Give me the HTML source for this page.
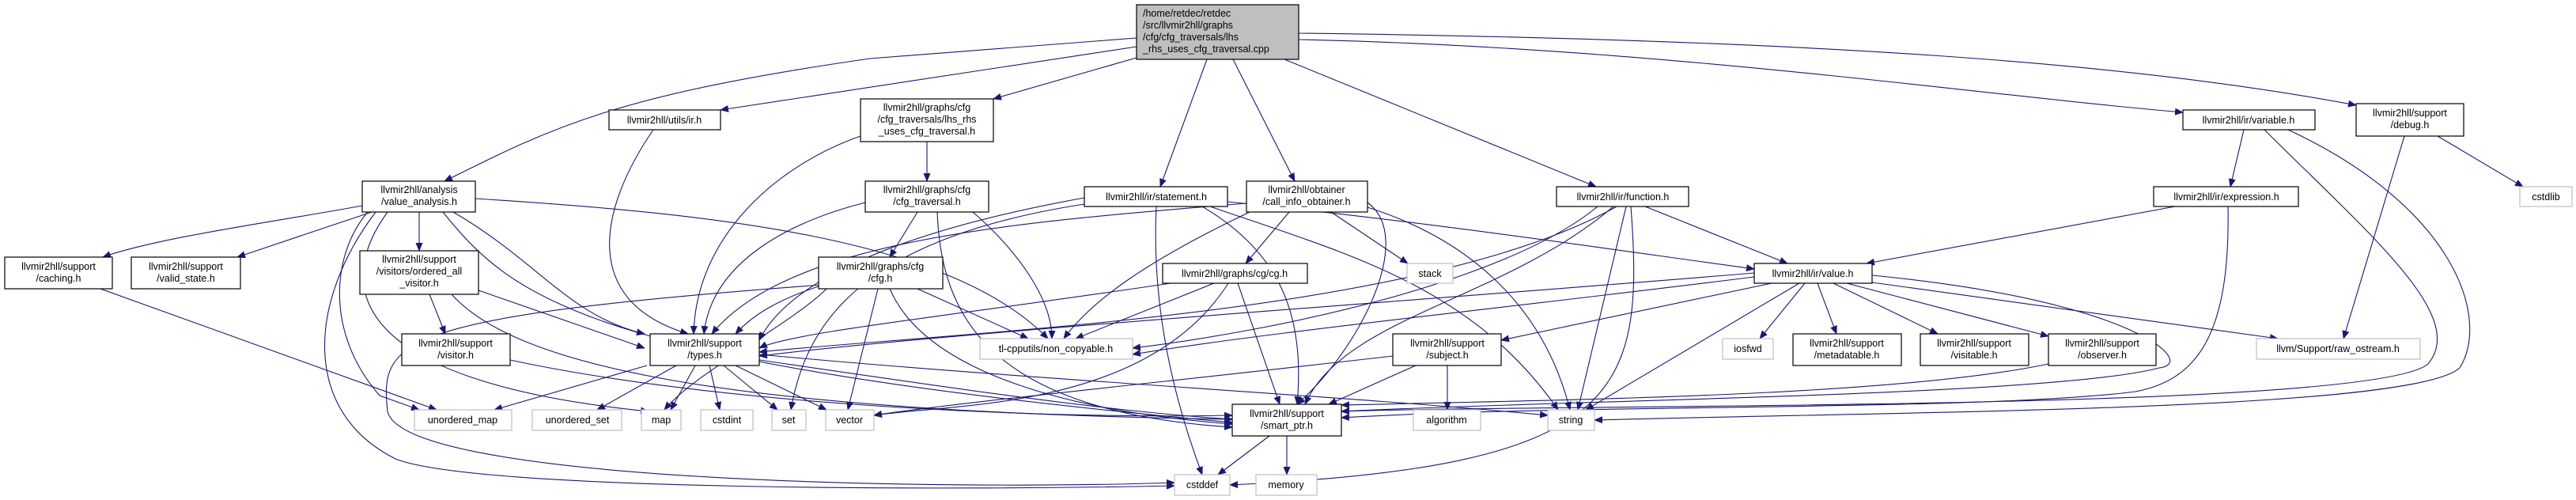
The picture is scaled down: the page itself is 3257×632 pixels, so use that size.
<!DOCTYPE html>
<html><head><meta charset="utf-8"><style>
html,body{margin:0;padding:0;background:#fff;}
svg{display:block;}
text{font-family:"Liberation Sans",sans-serif;font-size:12.5px;fill:#000;}
.n{fill:#fff;stroke:#000;stroke-width:1.2;}
.x{fill:#fff;stroke:#bfbfbf;stroke-width:1.2;}
.e{fill:none;stroke:#191970;stroke-width:1.1;}
</style></head><body>
<svg width="3257" height="632" viewBox="0 0 3257 632" xmlns="http://www.w3.org/2000/svg">
<defs><marker id="a" markerWidth="11" markerHeight="9" refX="10" refY="4.5" orient="auto" markerUnits="userSpaceOnUse"><path d="M0,0 L11,4.5 L0,9 z" fill="#191970"/></marker></defs>
<g class="e" marker-end="url(#a)">
<path d="M1437 48 L1100 74 C780 120 700 160 562 229"/>
<path d="M1437 59 L911 139"/>
<path d="M1437 73 L1256 125"/>
<path d="M1526 75 L1467 236"/>
<path d="M1559 75 L1637 229"/>
<path d="M1624 75 L2018 236"/>
<path d="M1642 50 C2100 60 2500 120 2760 142"/>
<path d="M1642 42 C2300 50 2700 80 2979 133"/>
<path d="M826 164 C760 260 730 380 870 422"/>
<path d="M1088 172 C980 210 880 300 877 422"/>
<path d="M1172 179 L1172 229"/>
<path d="M1160 268 L1125 325"/>
<path d="M1094 256 C1000 280 900 330 890 422"/>
<path d="M1230 268 C1290 320 1330 380 1330 428"/>
<path d="M1185 268 C1190 400 1250 520 1558 540"/>
<path d="M458 260 C350 280 200 300 130 325"/>
<path d="M470 268 L300 325"/>
<path d="M530 268 L530 317"/>
<path d="M573 268 C680 330 720 400 815 422"/>
<path d="M601 251 C900 270 1200 300 1325 428"/>
<path d="M490 268 C430 350 420 480 820 520"/>
<path d="M560 268 C650 380 750 460 1558 534"/>
<path d="M475 268 C390 380 380 520 500 580 C600 620 1200 620 1485 614"/>
<path d="M465 268 C420 320 410 420 480 500 L530 518"/>
<path d="M543 372 L563 422"/>
<path d="M605 367 L815 440"/>
<path d="M571 372 C650 460 900 520 1558 530"/>
<path d="M645 455 C900 510 1300 530 1558 525"/>
<path d="M127 365 L552 518"/>
<path d="M818 462 L625 518"/>
<path d="M855 462 L755 518"/>
<path d="M879 462 L848 518"/>
<path d="M897 462 L910 518"/>
<path d="M915 462 L983 518"/>
<path d="M930 462 L1045 518"/>
<path d="M960 448 C1300 480 1700 500 1957 525"/>
<path d="M960 455 C1200 490 1400 520 1558 530"/>
<path d="M1035 362 C980 380 950 400 930 422"/>
<path d="M1160 365 L1300 428"/>
<path d="M1110 365 L1072 518"/>
<path d="M1125 365 C1170 470 1350 520 1558 536"/>
<path d="M1040 360 C500 400 480 430 490 520 C510 610 1200 620 1485 610"/>
<path d="M1045 365 C1000 410 880 470 840 518"/>
<path d="M1371 250 C1150 290 1000 350 960 430"/>
<path d="M1552 255 C1800 280 2000 310 2218 340"/>
<path d="M1520 261 C1620 320 1650 400 1640 511"/>
<path d="M1462 261 C1455 400 1490 520 1520 600"/>
<path d="M1530 261 C1700 320 1860 360 1970 518"/>
<path d="M1371 258 C1100 300 1020 400 1000 518"/>
<path d="M1630 268 L1575 333"/>
<path d="M1683 268 L1780 333"/>
<path d="M1580 268 C1450 330 1380 380 1345 428"/>
<path d="M1576 257 C1300 280 1000 300 900 422"/>
<path d="M1729 256 C1790 300 1720 440 1640 511"/>
<path d="M1729 262 C1850 300 1950 380 1985 518"/>
<path d="M1480 358 C1200 400 1000 420 960 440"/>
<path d="M1535 358 L1360 428"/>
<path d="M1565 358 L1618 511"/>
<path d="M1553 358 C1450 520 1200 510 1105 525"/>
<path d="M2080 261 L2260 333"/>
<path d="M2044 261 C1800 400 1200 420 960 445"/>
<path d="M2040 261 C1900 380 1700 400 1650 511"/>
<path d="M2056 261 L1995 518"/>
<path d="M2062 261 C2080 500 2050 590 1555 613"/>
<path d="M2020 261 C1900 360 1600 420 1432 440"/>
<path d="M2837 164 L2820 236"/>
<path d="M2863 164 C3000 300 3120 400 3070 460 C3000 520 2000 510 1696 520"/>
<path d="M2893 164 C3100 260 3150 400 3110 465 C3050 520 2400 520 2016 531"/>
<path d="M2750 261 L2360 333"/>
<path d="M2817 261 C2820 420 2780 480 2700 495 C2500 520 2000 510 1696 528"/>
<path d="M3040 172 L2963 428"/>
<path d="M3082 172 L3190 236"/>
<path d="M2282 358 L2225 428"/>
<path d="M2298 358 L2322 422"/>
<path d="M2318 358 L2450 422"/>
<path d="M2335 358 L2590 425"/>
<path d="M2367 357 L2880 428"/>
<path d="M2240 358 L1898 430"/>
<path d="M2218 350 C1900 390 1600 420 1432 448"/>
<path d="M2218 345 C1800 380 1200 420 960 450"/>
<path d="M2275 358 L2005 518"/>
<path d="M2367 348 C2700 380 2780 460 2730 465 C2600 500 2000 505 1696 520"/>
<path d="M1830 462 L1830 518"/>
<path d="M1790 462 L1680 511"/>
<path d="M1761 450 C1500 480 1200 510 1105 525"/>
<path d="M2590 460 C2400 500 2000 505 1696 512"/>
<path d="M1605 551 L1540 600"/>
<path d="M1627 551 L1627 600"/>
</g>
<!-- nodes -->
<rect x="1437" y="6" width="205" height="69" fill="#bfbfbf" stroke="#000" stroke-width="1.2"/>
<text x="1445" y="21">/home/retdec/retdec</text><text x="1445" y="36">/src/llvmir2hll/graphs</text><text x="1445" y="51">/cfg/cfg_traversals/lhs</text><text x="1445" y="66">_rhs_uses_cfg_traversal.cpp</text>
<g text-anchor="middle">
<rect class="n" x="770" y="139" width="141" height="25"/><text x="840" y="156">llvmir2hll/utils/ir.h</text>
<rect class="n" x="1088" y="125" width="168" height="54"/><text x="1172" y="140">llvmir2hll/graphs/cfg</text><text x="1172" y="155">/cfg_traversals/lhs_rhs</text><text x="1172" y="170">_uses_cfg_traversal.h</text>
<rect class="n" x="458" y="229" width="143" height="39"/><text x="530" y="244">llvmir2hll/analysis</text><text x="530" y="259">/value_analysis.h</text>
<rect class="n" x="1094" y="229" width="156" height="39"/><text x="1172" y="244">llvmir2hll/graphs/cfg</text><text x="1172" y="259">/cfg_traversal.h</text>
<rect class="n" x="1371" y="236" width="181" height="25"/><text x="1462" y="253">llvmir2hll/ir/statement.h</text>
<rect class="n" x="1576" y="229" width="153" height="39"/><text x="1652" y="244">llvmir2hll/obtainer</text><text x="1652" y="259">/call_info_obtainer.h</text>
<rect class="n" x="1968" y="236" width="167" height="25"/><text x="2052" y="253">llvmir2hll/ir/function.h</text>
<rect class="n" x="2760" y="139" width="167" height="25"/><text x="2843" y="156">llvmir2hll/ir/variable.h</text>
<rect class="n" x="2979" y="131" width="136" height="41"/><text x="3047" y="147">llvmir2hll/support</text><text x="3047" y="162">/debug.h</text>
<rect class="n" x="2723" y="236" width="183" height="25"/><text x="2815" y="253">llvmir2hll/ir/expression.h</text>
<rect class="x" x="3186" y="236" width="66" height="25"/><text x="3219" y="253">cstdlib</text>
<rect class="n" x="6" y="325" width="136" height="40"/><text x="74" y="341">llvmir2hll/support</text><text x="74" y="356">/caching.h</text>
<rect class="n" x="166" y="325" width="138" height="40"/><text x="235" y="341">llvmir2hll/support</text><text x="235" y="356">/valid_state.h</text>
<rect class="n" x="455" y="317" width="150" height="55"/><text x="530" y="332">llvmir2hll/support</text><text x="530" y="347">/visitors/ordered_all</text><text x="530" y="362">_visitor.h</text>
<rect class="n" x="1035" y="325" width="157" height="40"/><text x="1113" y="341">llvmir2hll/graphs/cfg</text><text x="1113" y="356">/cfg.h</text>
<rect class="n" x="1470" y="333" width="183" height="25"/><text x="1561" y="350">llvmir2hll/graphs/cg/cg.h</text>
<rect class="x" x="1779" y="333" width="58" height="25"/><text x="1808" y="350">stack</text>
<rect class="n" x="2218" y="333" width="149" height="25"/><text x="2292" y="350">llvmir2hll/ir/value.h</text>
<rect class="n" x="508" y="422" width="137" height="40"/><text x="576" y="438">llvmir2hll/support</text><text x="576" y="453">/visitor.h</text>
<rect class="n" x="822" y="422" width="138" height="40"/><text x="891" y="438">llvmir2hll/support</text><text x="891" y="453">/types.h</text>
<rect class="x" x="1239" y="428" width="193" height="26"/><text x="1335" y="445">tl-cpputils/non_copyable.h</text>
<rect class="n" x="1761" y="422" width="137" height="40"/><text x="1830" y="438">llvmir2hll/support</text><text x="1830" y="453">/subject.h</text>
<rect class="x" x="2178" y="428" width="64" height="26"/><text x="2210" y="445">iosfwd</text>
<rect class="n" x="2267" y="422" width="137" height="40"/><text x="2335" y="438">llvmir2hll/support</text><text x="2335" y="453">/metadatable.h</text>
<rect class="n" x="2428" y="422" width="137" height="40"/><text x="2496" y="438">llvmir2hll/support</text><text x="2496" y="453">/visitable.h</text>
<rect class="n" x="2590" y="422" width="136" height="40"/><text x="2658" y="438">llvmir2hll/support</text><text x="2658" y="453">/observer.h</text>
<rect class="x" x="2853" y="428" width="207" height="26"/><text x="2956" y="445">llvm/Support/raw_ostream.h</text>
<rect class="x" x="524" y="518" width="123" height="26"/><text x="585" y="535">unordered_map</text>
<rect class="x" x="673" y="518" width="113" height="26"/><text x="730" y="535">unordered_set</text>
<rect class="x" x="811" y="518" width="50" height="26"/><text x="836" y="535">map</text>
<rect class="x" x="886" y="518" width="66" height="26"/><text x="919" y="535">cstdint</text>
<rect class="x" x="976" y="518" width="43" height="26"/><text x="997" y="535">set</text>
<rect class="x" x="1044" y="518" width="61" height="26"/><text x="1074" y="535">vector</text>
<rect class="n" x="1558" y="511" width="138" height="40"/><text x="1627" y="527">llvmir2hll/support</text><text x="1627" y="542">/smart_ptr.h</text>
<rect class="x" x="1787" y="518" width="85" height="26"/><text x="1829" y="535">algorithm</text>
<rect class="x" x="1957" y="518" width="59" height="26"/><text x="1986" y="535">string</text>
<rect class="x" x="1485" y="600" width="70" height="26"/><text x="1520" y="617">cstddef</text>
<rect class="x" x="1588" y="600" width="77" height="26"/><text x="1626" y="617">memory</text>
</g>
</svg>
</body></html>
